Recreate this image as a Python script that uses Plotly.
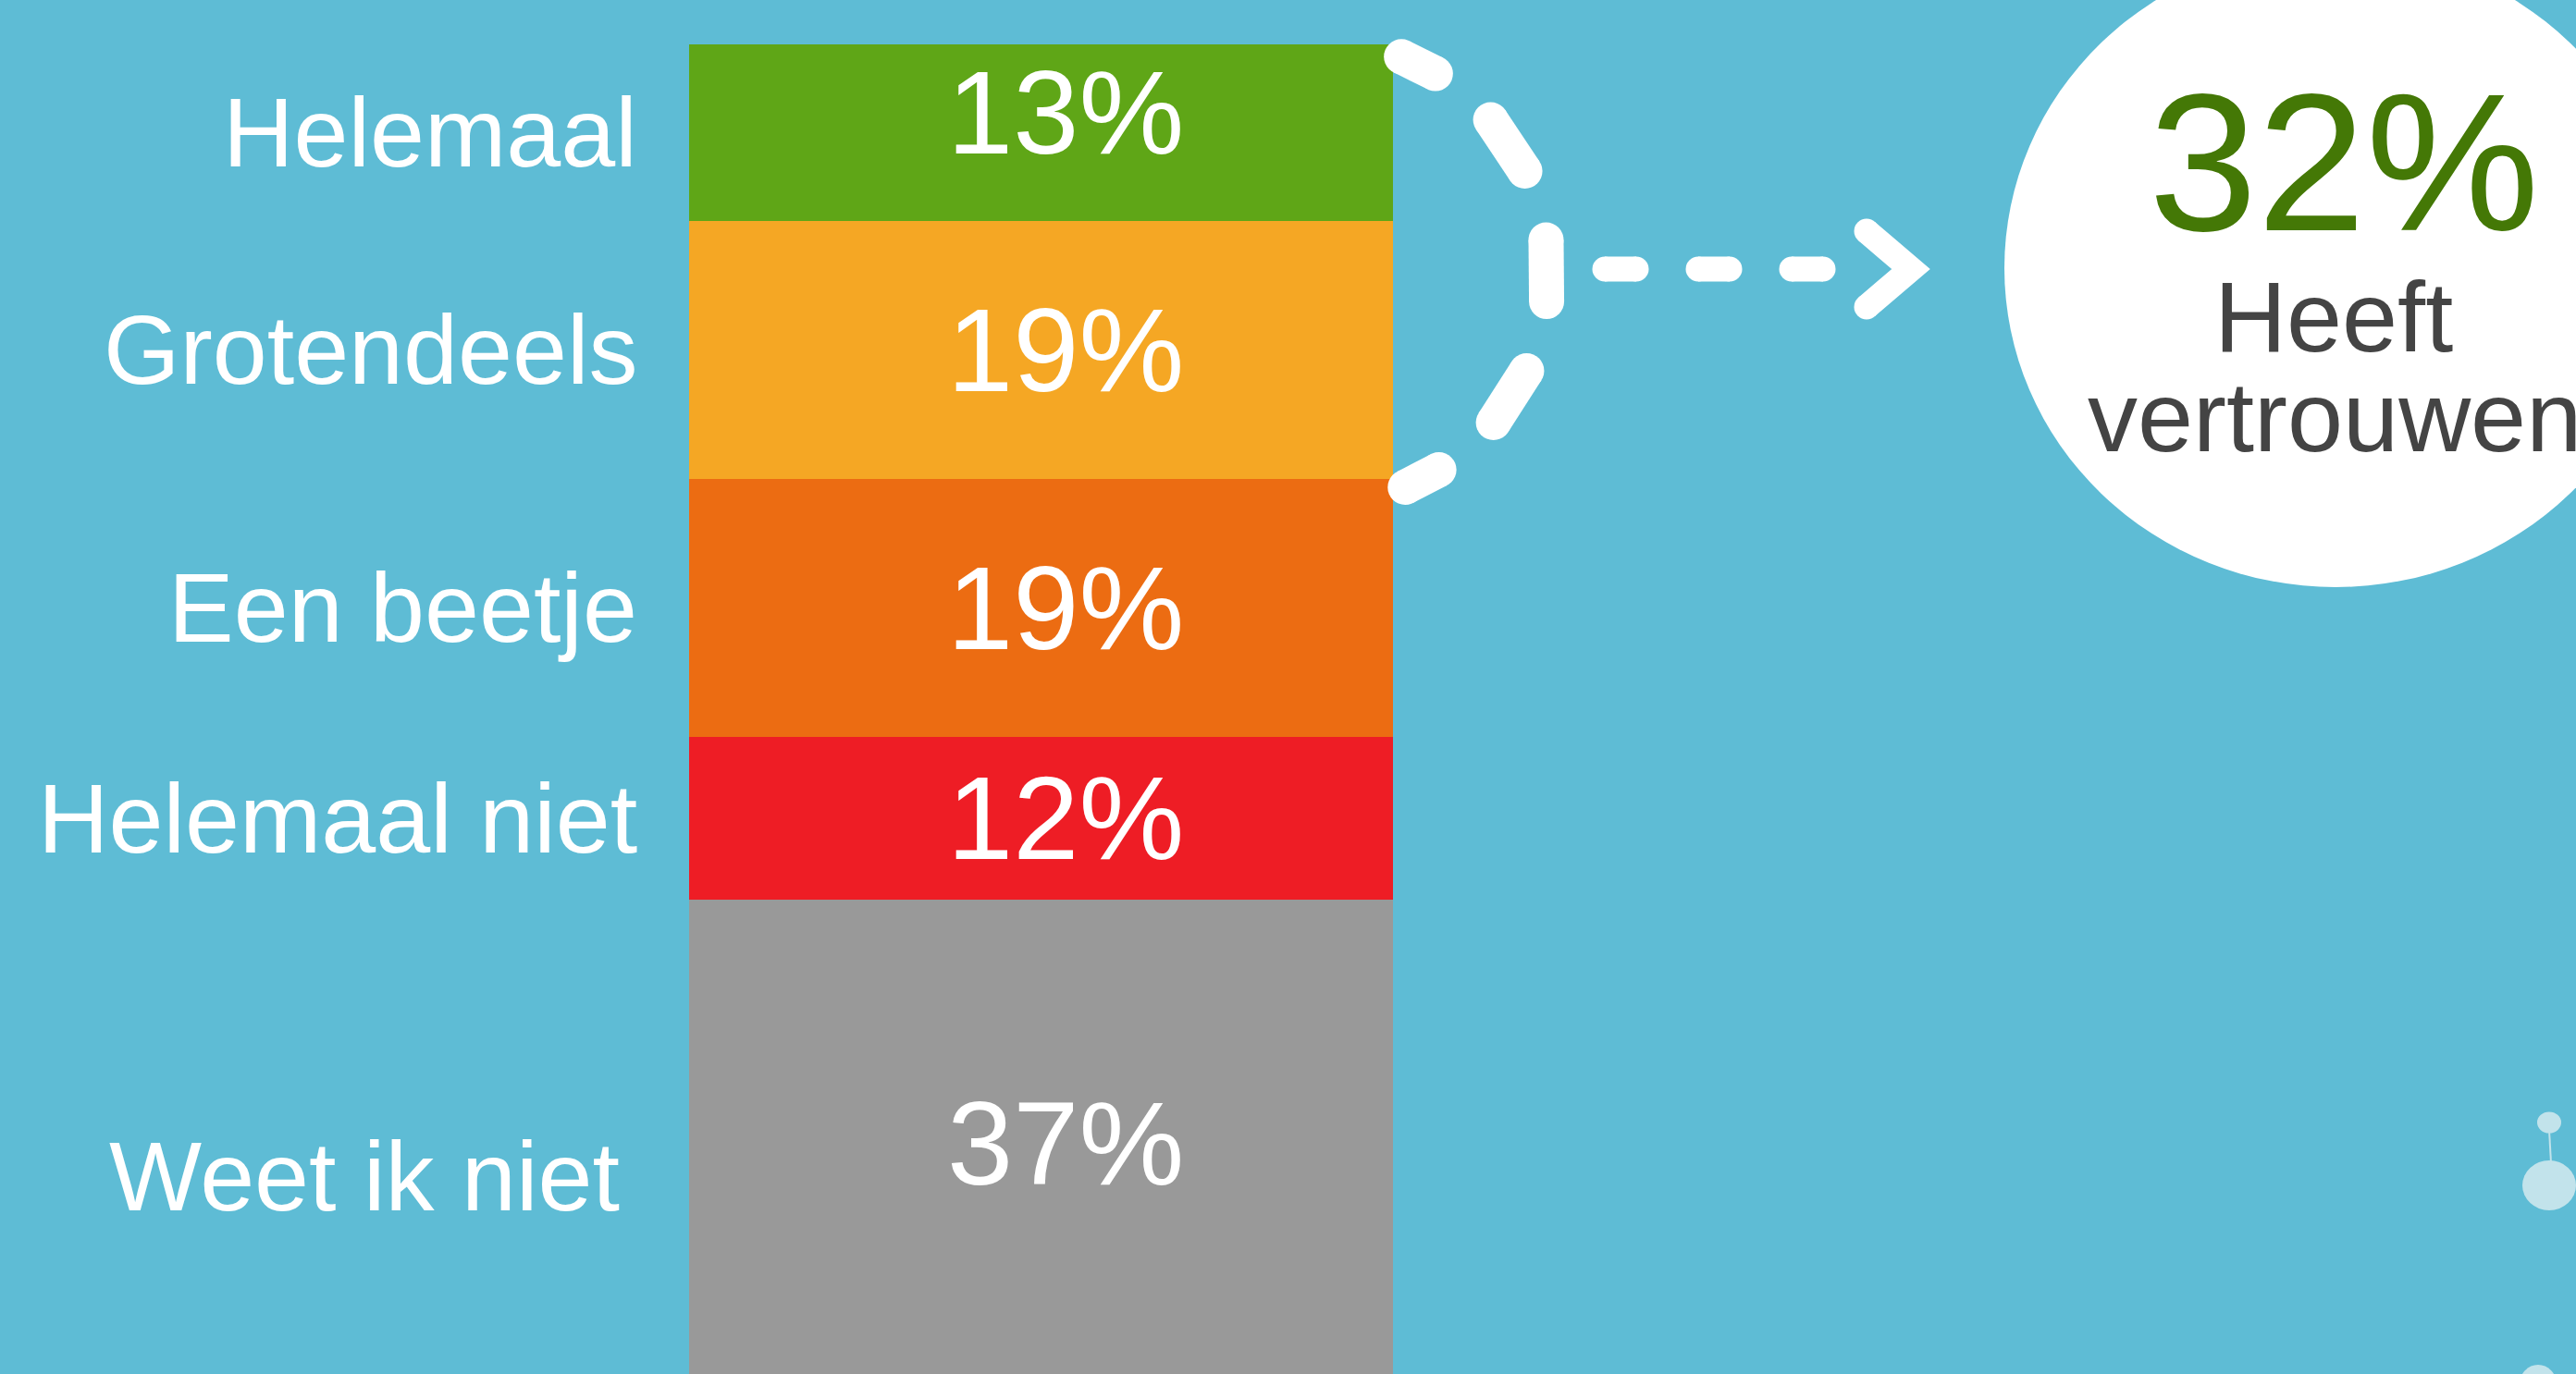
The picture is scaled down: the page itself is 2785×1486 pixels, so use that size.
import numpy as np
import plotly.graph_objects as go

# ---- data ----
categories = ["Helemaal", "Grotendeels", "Een beetje", "Helemaal niet", "Weet ik niet"]
values = [13, 19, 19, 12, 37]
colors = ["#5FA617", "#F5A724", "#EC6C12", "#EE1D25", "#999999"]
summary_value = "32%"
summary_label = ["Heeft", "vertrouwen"]

# ---- styles ----
BG = "#5EBCD5"
FONT = "Liberation Sans, Arial, Helvetica, sans-serif"
W, H = 2785, 1486

fig = go.Figure()

# stacked bar: first trace sits at the bottom
for cat, val, col in reversed(list(zip(categories, values, colors))):
    fig.add_trace(go.Bar(
        x=[0], y=[val], name=cat, width=1,
        marker=dict(color=col, line=dict(width=0)),
        hoverinfo="skip", showlegend=False,
    ))

# labels and percentages
label_xshift = [-55, -55, -55, -55, -74]
label_yshift = [0, 0, 0, 0, -28]
pct_yshift = [22, 0, 0, 0, 8]
top = 100
for i, (cat, val) in enumerate(zip(categories, values)):
    mid = top - val / 2
    fig.add_annotation(x=-0.5, y=mid, xref="x", yref="y", text=cat,
                       showarrow=False, xanchor="right", yanchor="middle",
                       xshift=label_xshift[i], yshift=label_yshift[i], borderpad=0,
                       font=dict(family=FONT, size=106, color="white"))
    fig.add_annotation(x=0, y=mid, xref="x", yref="y", text=f"{val}%",
                       showarrow=False, xanchor="center", yanchor="middle",
                       xshift=26, yshift=pct_yshift[i], borderpad=0,
                       font=dict(family=FONT, size=128, color="white"))
    top -= val

# ---- decorations on a pixel-space overlay axis ----
WHITE = "white"

def seg_trace(xs, ys, width):
    fig.add_trace(go.Scatter(
        x=xs, y=ys, xaxis="x2", yaxis="y2", mode="lines",
        line=dict(color=WHITE, width=width), hoverinfo="skip", showlegend=False))
    fig.add_trace(go.Scatter(
        x=[xs[0], xs[-1]], y=[ys[0], ys[-1]], xaxis="x2", yaxis="y2", mode="markers",
        marker=dict(color=WHITE, size=width, line=dict(width=0)),
        hoverinfo="skip", showlegend=False))

# curved dashed bracket
cx, cy, rx, ry = 1420, 295, 254, 252
t = np.radians(np.linspace(-68, 67, 3000))
ax_ = cx + rx * np.cos(t)
ay_ = cy + ry * np.sin(t)
s = np.concatenate([[0], np.cumsum(np.hypot(np.diff(ax_), np.diff(ay_)))])
L = s[-1]
core, gap = 67, 78
end = (L - 3 * core - 4 * gap) / 2
bounds = [(0, end)]
pos = end + gap
for _ in range(3):
    bounds.append((pos, pos + core))
    pos += core + gap
bounds.append((pos, L))
for a, b in bounds:
    m = (s >= a) & (s <= b)
    seg_trace(list(ax_[m]), list(ay_[m]), 38)

# horizontal dashes
hy = 291
for k in range(3):
    x0 = 1735 + k * 101
    seg_trace([x0, x0 + 34], [hy, hy], 27)

# chevron
seg_trace([2018, 2066, 2018], [250, 291, 332], 27)

# big white circle and bubbles
shapes = [
    dict(type="circle", xref="x2", yref="y2", x0=2525 - 358, x1=2525 + 358,
         y0=290 - 345, y1=290 + 345, fillcolor="white", line=dict(width=0), layer="above"),
    dict(type="line", xref="x2", yref="y2", x0=2756, x1=2758, y0=1222, y1=1258,
         line=dict(color="#C2E3EB", width=2)),
    dict(type="circle", xref="x2", yref="y2", x0=2756 - 13, x1=2756 + 13,
         y0=1214 - 11.5, y1=1214 + 11.5, fillcolor="#C2E3EB", line=dict(width=0)),
    dict(type="circle", xref="x2", yref="y2", x0=2756 - 29, x1=2756 + 29,
         y0=1282 - 27, y1=1282 + 27, fillcolor="#C2E3EB", line=dict(width=0)),
    dict(type="circle", xref="x2", yref="y2", x0=2744 - 20, x1=2744 + 20,
         y0=1476, y1=1518, fillcolor="#C2E3EB", line=dict(width=0)),
]

fig.add_annotation(x=2534, y=176, xref="x2", yref="y2", text=summary_value,
                   showarrow=False, xanchor="center", yanchor="middle", borderpad=0,
                   font=dict(family=FONT, size=211, color="#447806"))
fig.add_annotation(x=2523, y=342, xref="x2", yref="y2", text=summary_label[0],
                   showarrow=False, xanchor="center", yanchor="middle", borderpad=0,
                   font=dict(family=FONT, size=108, color="#444444"))
fig.add_annotation(x=2524, y=450, xref="x2", yref="y2", text=summary_label[1],
                   showarrow=False, xanchor="center", yanchor="middle", borderpad=0,
                   font=dict(family=FONT, size=108, color="#444444"))

fig.update_layout(
    width=W, height=H,
    margin=dict(l=0, r=0, t=0, b=0, pad=0),
    paper_bgcolor=BG, plot_bgcolor=BG,
    barmode="stack", bargap=0,
    shapes=shapes,
    hovermode=False,
    xaxis=dict(range=[-1125.5 / 761, (W - 1125.5) / 761], visible=False, fixedrange=True),
    yaxis=dict(range=[100 - 1438 / 14.68, 100 + 48 / 14.68], visible=False, fixedrange=True),
    xaxis2=dict(range=[0, W], overlaying="x", visible=False, fixedrange=True),
    yaxis2=dict(range=[H, 0], overlaying="y", visible=False, fixedrange=True),
)

fig.write_html(
    "out.html",
    config={"displayModeBar": False},
    post_script="document.body.style.margin='0';document.body.style.overflow='hidden';",
)
